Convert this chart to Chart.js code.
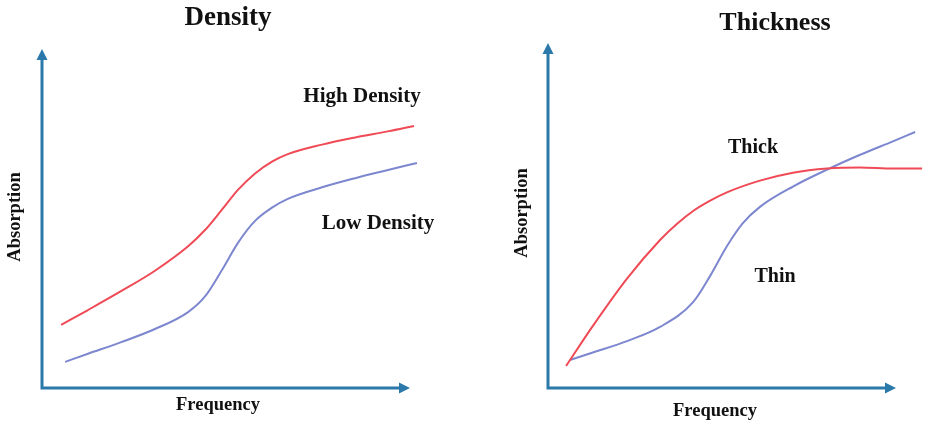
<!DOCTYPE html>
<html>
<head>
<meta charset="utf-8">
<script src="https://cdn.jsdelivr.net/npm/chart.js@4.4.1/dist/chart.umd.min.js"></script>
<style>
  html, body { margin: 0; padding: 0; background: #fff; }
  #wrap { position: relative; width: 926px; height: 426px; }
  .box { position: absolute; top: 0; width: 463px; height: 426px; }
</style>
</head>
<body>
<div id="wrap">
  <div class="box" style="left:0"><canvas id="densityChart"></canvas></div>
  <div class="box" style="left:463px"><canvas id="thicknessChart"></canvas></div>
</div>
<script>
// Density panel (frequency 0-100 along the axis, absorption 0-100)
const highDensityX = [5.2, 12.5, 21.7, 30.7, 39.7, 44.3, 48.9, 53.3, 57.9, 62.5, 66.8, 76.1, 85.1, 94.0, 101.1];
const highDensityY = [18.6, 23.0, 28.7, 34.6, 41.8, 46.6, 52.6, 58.5, 63.3, 66.8, 69.0, 71.8, 73.9, 75.7, 77.3];
const lowDensityX = [6.3, 12.5, 21.7, 30.7, 39.7, 44.3, 48.9, 53.3, 57.9, 62.5, 66.8, 76.1, 85.1, 94.0, 101.9];
const lowDensityY = [7.7, 10.1, 13.6, 17.4, 22.4, 27.0, 34.8, 42.9, 49.3, 53.2, 55.8, 59.2, 61.9, 64.3, 66.4];

// Thickness panel
const thickX = [5.2, 12.9, 22.7, 32.2, 37.1, 41.7, 46.6, 51.4, 60.9, 70.4, 80.2, 89.7, 99.1, 107.5];
const thickY = [6.4, 18.0, 31.7, 42.9, 47.6, 51.3, 54.3, 56.7, 60.1, 62.4, 63.6, 63.9, 63.6, 63.6];
const thinX = [6.3, 12.9, 22.7, 32.2, 41.7, 46.6, 51.4, 56.0, 60.9, 70.4, 80.2, 89.7, 99.1, 105.5];
const thinY = [8.1, 10.3, 13.6, 17.7, 24.9, 32.5, 41.1, 47.8, 52.5, 58.4, 63.3, 67.6, 71.5, 74.2];

const RED = "#ef4a55";
const BLUE = "#7d87cf";
const AXIS = "#2b78aa";
const SERIF = "'Liberation Serif', 'Times New Roman', serif";

function pts(xs, ys) {
  return xs.map((x, i) => ({ x: x, y: ys[i] }));
}

// draws the two arrow axes and the text labels
const decorPlugin = {
  id: "decor",
  afterDraw(chart, args, opts) {
    const ctx = chart.ctx;
    const a = chart.chartArea;
    ctx.save();
    ctx.strokeStyle = AXIS;
    ctx.fillStyle = AXIS;
    ctx.lineWidth = 3;
    ctx.beginPath();
    ctx.moveTo(a.left, a.top + 8);
    ctx.lineTo(a.left, a.bottom);
    ctx.lineTo(a.right - 8, a.bottom);
    ctx.stroke();
    // arrow heads
    ctx.beginPath();
    ctx.moveTo(a.left, a.top);
    ctx.lineTo(a.left - 5.5, a.top + 11);
    ctx.lineTo(a.left + 5.5, a.top + 11);
    ctx.closePath();
    ctx.fill();
    ctx.beginPath();
    ctx.moveTo(a.right, a.bottom);
    ctx.lineTo(a.right - 11, a.bottom - 5.5);
    ctx.lineTo(a.right - 11, a.bottom + 5.5);
    ctx.closePath();
    ctx.fill();

    ctx.fillStyle = "#111";
    ctx.textAlign = "center";
    ctx.textBaseline = "middle";
    opts.texts.forEach(t => {
      ctx.save();
      ctx.font = "bold " + t.size + "px " + SERIF;
      ctx.translate(t.x, t.y);
      if (t.rot) ctx.rotate(t.rot);
      ctx.fillText(t.text, 0, 0);
      ctx.restore();
    });
    ctx.restore();
  }
};

function makeChart(id, series, padding, texts) {
  const ctx = document.getElementById(id).getContext("2d");
  return new Chart(ctx, {
    type: "line",
    data: {
      datasets: series.map(s => ({
        label: s.label,
        data: s.data,
        borderColor: s.color,
        borderWidth: 2,
        pointRadius: 0,
        fill: false,
        cubicInterpolationMode: "monotone",
        clip: false
      }))
    },
    options: {
      responsive: false,
      animation: false,
      layout: { padding: padding },
      scales: {
        x: { type: "linear", min: 0, max: 100, display: false },
        y: { type: "linear", min: 0, max: 100, display: false }
      },
      plugins: {
        legend: { display: false },
        tooltip: { enabled: false },
        decor: { texts: texts }
      }
    },
    plugins: [decorPlugin]
  });
}

["densityChart", "thicknessChart"].forEach(id => {
  const c = document.getElementById(id);
  c.width = 463;
  c.height = 426;
});

makeChart("densityChart", [
  { label: "High Density", data: pts(highDensityX, highDensityY), color: RED },
  { label: "Low Density", data: pts(lowDensityX, lowDensityY), color: BLUE }
], { left: 42, right: 53, top: 49, bottom: 38 }, [
  { text: "Density", x: 228, y: 18, size: 27 },
  { text: "Absorption", x: 15, y: 217, size: 18.5, rot: -Math.PI / 2 },
  { text: "Frequency", x: 218, y: 405, size: 18.5 },
  { text: "High Density", x: 362, y: 97, size: 21 },
  { text: "Low Density", x: 378, y: 224, size: 21 }
]);

makeChart("thicknessChart", [
  { label: "Thick", data: pts(thickX, thickY), color: RED },
  { label: "Thin", data: pts(thinX, thinY), color: BLUE }
], { left: 85, right: 30, top: 43, bottom: 38 }, [
  { text: "Thickness", x: 312, y: 23, size: 26 },
  { text: "Absorption", x: 59, y: 213, size: 18.5, rot: -Math.PI / 2 },
  { text: "Frequency", x: 252, y: 411, size: 18.5 },
  { text: "Thick", x: 290, y: 148, size: 20 },
  { text: "Thin", x: 312, y: 277, size: 20 }
]);
</script>
</body>
</html>
